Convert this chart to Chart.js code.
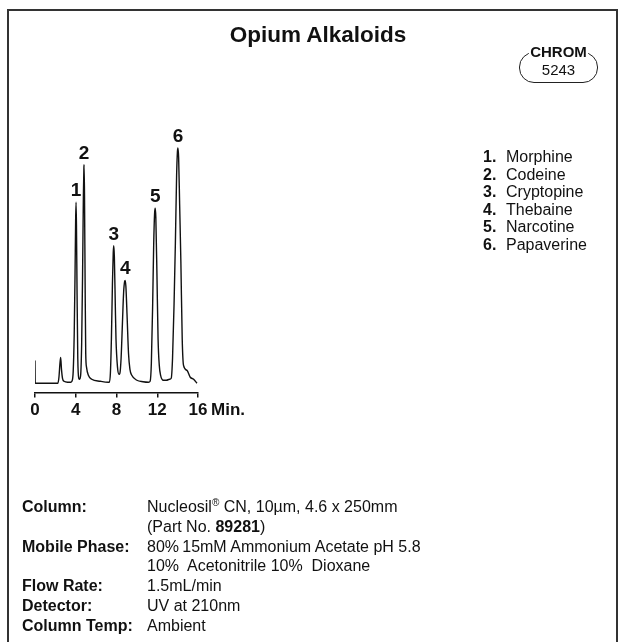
<!DOCTYPE html>
<html>
<head>
<meta charset="utf-8">
<title>Opium Alkaloids</title>
<script src="https://cdn.jsdelivr.net/npm/chart.js@4.4.1/dist/chart.umd.min.js"></script>
<style>
  html, body { margin:0; padding:0; background:#fff; }
  body { width:628px; height:642px; position:relative; overflow:hidden;
         font-family:"Liberation Sans", Arial, sans-serif; color:#111; }
  #chrom { position:absolute; left:0; top:0; }
  .frame { position:absolute; left:7px; top:9px; width:607px; height:640px;
           border:2px solid #333; border-bottom:none; }
  .title { position:absolute; left:0; width:636px; top:22px; text-align:center;
           font-size:22.5px; font-weight:bold; line-height:26px; }
  .badge { position:absolute; left:519px; top:52px; width:77px; height:29px;
           border:1.3px solid #222; border-radius:15px; }
  .badge .top { position:absolute; left:0; right:0; top:-9px; text-align:center; line-height:16px; }
  .badge .top span { background:#fff; padding:0 1px; font-weight:bold; font-size:15px; }
  .badge .num { position:absolute; left:0; right:0; top:9px; text-align:center; font-size:15px; line-height:16px; }
  .legend { position:absolute; left:483px; top:148px; font-size:16px; line-height:17.6px; }
  .legend b { display:inline-block; width:23px; }
  .cond { position:absolute; left:22px; top:497px; font-size:16px; line-height:19.8px; }
  .cond .row { display:flex; white-space:nowrap; }
  .cond .lab { width:125px; flex:none; font-weight:bold; }
  .cond sup { font-size:10px; line-height:0; }
</style>
</head>
<body>
<canvas id="chrom" width="628" height="642"></canvas>
<div class="frame"></div>
<div class="title">Opium Alkaloids</div>
<div class="badge"><div class="top"><span>CHROM</span></div><div class="num">5243</div></div>
<div class="legend">
  <div><b>1.</b>Morphine</div>
  <div><b>2.</b>Codeine</div>
  <div><b>3.</b>Cryptopine</div>
  <div><b>4.</b>Thebaine</div>
  <div><b>5.</b>Narcotine</div>
  <div><b>6.</b>Papaverine</div>
</div>
<div class="cond">
  <div class="row"><span class="lab">Column:</span><span>Nucleosil<sup>®</sup> CN, 10µm, 4.6 x 250mm</span></div>
  <div class="row"><span class="lab"></span><span>(Part No. <b>89281</b>)</span></div>
  <div class="row"><span class="lab">Mobile Phase:</span><span>80%&thinsp;15mM Ammonium Acetate pH 5.8</span></div>
  <div class="row"><span class="lab"></span><span>10%&nbsp; Acetonitrile 10%&nbsp; Dioxane</span></div>
  <div class="row"><span class="lab">Flow Rate:</span><span>1.5mL/min</span></div>
  <div class="row"><span class="lab">Detector:</span><span>UV at 210nm</span></div>
  <div class="row"><span class="lab">Column Temp:</span><span>Ambient</span></div>
</div>
<script>
/* chromatogram trace (time in min, detector response) */
const TIME = [
  0, 0.02, 1.0, 2.25, 2.35, 2.45, 2.52, 2.6, 2.7, 2.85, 3.2, 3.5,
  3.62, 3.75, 3.85, 3.93, 3.99, 4.03, 4.07, 4.13, 4.2, 4.3, 4.38,
  4.48, 4.58, 4.67, 4.75, 4.8, 4.82, 4.86, 4.92, 4.98, 5.06, 5.24, 5.57, 6.4, 7.2,
  7.3, 7.4, 7.5, 7.6, 7.68, 7.73, 7.79, 7.88, 7.95, 8.1, 8.25,
  8.33, 8.45, 8.58, 8.7, 8.8, 8.85, 8.92, 9.05, 9.18, 9.32, 9.5, 10.0, 10.6, 11.14,
  11.3, 11.42, 11.55, 11.65, 11.74, 11.8, 11.86, 11.97, 12.08, 12.2, 12.33, 12.6, 12.9, 13.2,
  13.37, 13.5, 13.65, 13.78, 13.9, 13.98, 14.03, 14.1, 14.2, 14.32, 14.45, 14.58, 14.92, 15.24, 15.57, 15.9
];
const SIGNAL = [
  23, 0, 0, 0, 6, 20, 26, 14, 5, 2, 1, 1,
  2, 12, 50, 110, 165, 183, 160, 90, 25, 5, 4,
  8, 40, 110, 190, 218, 221, 190, 100, 30, 16, 8, 4, 2, 1,
  1, 10, 45, 100, 132, 139, 128, 80, 45, 16, 9,
  10, 25, 60, 92, 103, 104, 98, 65, 30, 14, 8, 3, 1.5, 1,
  2, 20, 80, 140, 172, 177, 168, 110, 45, 18, 8, 3, 3, 4,
  5, 25, 80, 142, 210, 234, 238, 228, 180, 122, 45, 18, 13, 6, 4, 0
];
const PEAK_IDS  = ['1', '2', '3', '4', '5', '6'];
const PEAK_TIME = [4.03, 4.82, 7.73, 8.85, 11.8, 14.03];
const PEAK_TOP  = [183, 221, 139, 104, 177, 238];
const X_TICKS   = [0, 4, 8, 12, 16];
const X_UNIT    = 'Min.';

const FONT = '"Liberation Sans", Arial, sans-serif';

// peak numbers above each peak + unit after the last tick
const peakLabels = {
  id: 'peakLabels',
  afterDraw(chart) {
    const { ctx, scales: { x, y } } = chart;
    ctx.save();
    ctx.fillStyle = '#111';
    ctx.font = `bold 19px ${FONT}`;
    ctx.textAlign = 'center'; ctx.textBaseline = 'alphabetic';
    PEAK_IDS.forEach((id, i) => ctx.fillText(id, x.getPixelForValue(PEAK_TIME[i]), y.getPixelForValue(PEAK_TOP[i]) - 6));
    ctx.font = `bold 17px ${FONT}`;
    ctx.textAlign = 'left'; ctx.textBaseline = 'middle';
    ctx.fillText(X_UNIT, x.getPixelForValue(X_TICKS[X_TICKS.length - 1]) + 13, x.top + 18.2);
    ctx.restore();
  }
};

new Chart(document.getElementById('chrom'), {
  type: 'line',
  data: {
    datasets: [{
      data: TIME.map((t, i) => ({ x: t, y: SIGNAL[i] })),
      borderColor: '#111', borderWidth: 1.4,
      pointRadius: 0, fill: false,
      cubicInterpolationMode: 'monotone'
    }]
  },
  options: {
    responsive: false, animation: false, events: [],
    layout: { padding: { left: 35, right: 430, top: 140, bottom: 218 } },
    plugins: { legend: { display: false }, tooltip: { enabled: false } },
    scales: {
      x: {
        type: 'linear', min: 0, max: 16,
        afterBuildTicks: s => { s.ticks = X_TICKS.map(v => ({ value: v })); },
        grid: { drawOnChartArea: false, drawTicks: true, tickLength: 5, color: '#111', lineWidth: 1.5 },
        border: { color: '#111', width: 1.5 },
        ticks: { color: '#111', font: { family: FONT, size: 17, weight: 'bold' }, padding: 3, maxRotation: 0 }
      },
      y: { display: false, min: -9.5, max: 246 }
    }
  },
  plugins: [peakLabels]
});
</script>
</body>
</html>
